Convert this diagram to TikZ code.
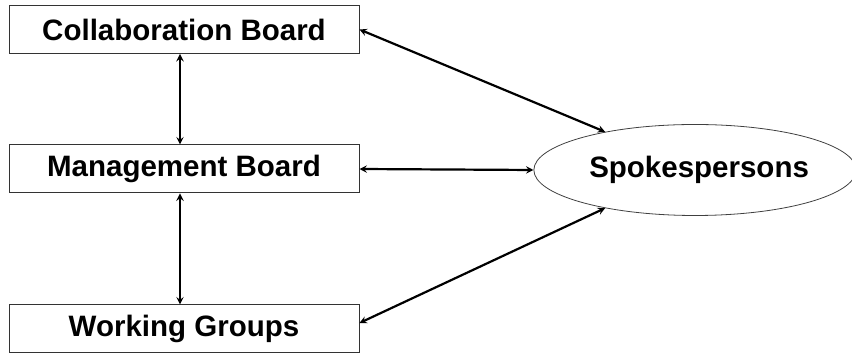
\documentclass[tikz,border=0pt]{standalone}
\usepackage{fontspec}
\setmainfont{Liberation Sans}
\usetikzlibrary{shapes, arrows, positioning}

\begin{document}
\begin{tikzpicture}[>=stealth, x=1pt, y=1pt]
	\tikzstyle{board} = [draw=black!80, line width=1pt, rectangle, minimum width=350pt, minimum height=48pt, inner sep=0pt, font=\fontsize{29.5}{32}\selectfont\bfseries]
	\tikzstyle{group} = [draw=black!75, line width=0.8pt, ellipse, minimum width=314pt, minimum height=91pt, inner sep=0pt, font=\fontsize{29.5}{32}\selectfont\bfseries]
	\tikzstyle{link} = [<->, line width=2.2pt]

	\useasboundingbox (0,0) rectangle (852,355);

	\path
		node[board] (cb) at (184,325.5) {Collaboration Board}
		node[board] (mb) at (184,186) {Management Board}
		node[board] (wg) at (184,26) {Working Groups}
		node[group] (sp) at (695,185) {~Spokespersons}

		([xshift=-4pt]cb.south) edge[link] ([xshift=-4pt]mb.north)
		([xshift=-4pt]mb.south) edge[link] ([xshift=-4pt]wg.north)
		(cb.east) edge[link] (sp.157)
		(mb.east) edge[link] (sp.west)
		([yshift=6pt]wg.east) edge[link] (sp.203)
	;
\end{tikzpicture}
\end{document}
